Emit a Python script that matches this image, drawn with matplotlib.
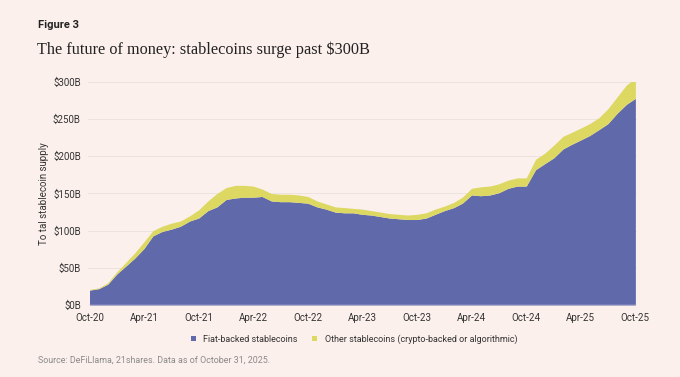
import pandas as pd
import numpy as np
import matplotlib.pyplot as plt

plt.rcParams["font.family"] = ["Roboto", "DejaVu Sans"]

# 월별 데이터 (Oct-20 ~ Oct-25), 단위: $B
months = pd.date_range("2020-10-01", "2025-10-01", freq="MS")
fiat = [20, 22, 28, 42, 53, 63, 76, 93, 99, 102, 106, 113, 117, 127, 132, 142,
        144, 145, 145, 146, 140, 139, 139, 138, 137, 132, 129, 125, 124, 124,
        122, 121, 119, 117, 116, 115, 115, 117, 122, 127, 131, 137, 148, 147,
        148, 151, 157, 160, 160, 182, 190, 198, 210, 216, 222, 228, 236, 244,
        258, 270, 278]
total = [21, 23, 30, 45, 58, 70, 85, 100, 106, 110, 113, 120, 128, 140, 150, 158,
         161, 161, 160, 156, 150, 149, 149, 148, 146, 140, 136, 132, 131, 130,
         129, 127, 125, 123, 122, 121, 122, 124, 129, 133, 138, 145, 157, 159,
         160, 163, 168, 171, 171, 196, 204, 215, 227, 232, 238, 244, 252, 264,
         280, 296, 305]

tick_dates = pd.date_range("2020-10-01", "2025-10-01", freq="6MS")
tick_labels = [d.strftime("%b-%y") for d in tick_dates]
y_ticks = [0, 50, 100, 150, 200, 250, 300]

bg = "#fbf0ec"
blue = "#606aab"
yellow = "#dcd862"

fig = plt.figure(figsize=(6.8, 3.77), dpi=100, facecolor=bg)
ax = fig.add_axes([0.129, 0.191, 0.808, 0.5915], facecolor=bg)

ax.fill_between(months, 0, fiat, color=blue, lw=0, label="Fiat-backed stablecoins")
ax.fill_between(months, fiat, total, color=yellow, lw=0,
                label="Other stablecoins (crypto-backed or algorithmic)")

ax.set_ylim(0, 300)
ax.set_xlim(months[0] - pd.Timedelta(days=6), months[-1] + pd.Timedelta(days=6))
ax.set_yticks(y_ticks)
ax.set_yticklabels([f"${v}B" for v in y_ticks])
ax.set_xticks(tick_dates)
ax.set_xticklabels(tick_labels)
ax.tick_params(length=0, labelsize=7, colors="#333333")
ax.tick_params(axis="x", pad=6)
ax.tick_params(axis="y", pad=5)
ax.grid(axis="y", color="#ece2de", lw=0.7)
ax.set_axisbelow(True)
for s in ax.spines.values():
    s.set_visible(False)
ax.axhline(0, color="#d8d4ea", lw=1)

ax.set_ylabel("To tal stablecoin supply", fontsize=7, color="#333333", labelpad=3)

ax.legend(loc="upper center", bbox_to_anchor=(0.485, -0.095), ncol=2, frameon=False,
          fontsize=6.5, handlelength=0.55, handleheight=0.55, columnspacing=1.6,
          handletextpad=0.8, labelcolor="#333333")

fig.text(0.056, 0.934, "Figure 3", fontsize=8, fontweight="bold", color="#222222", va="center")
fig.text(0.055, 0.868, "The future of money: stablecoins surge past $300B",
         fontsize=11.7, family="Liberation Serif", color="#222222", va="center")
fig.text(0.056, 0.045, "Source: DeFiLlama, 21shares. Data as of October 31, 2025.",
         fontsize=6.4, color="#8a8a8a", va="center")

fig.savefig("out.png", dpi=100, facecolor=bg)
